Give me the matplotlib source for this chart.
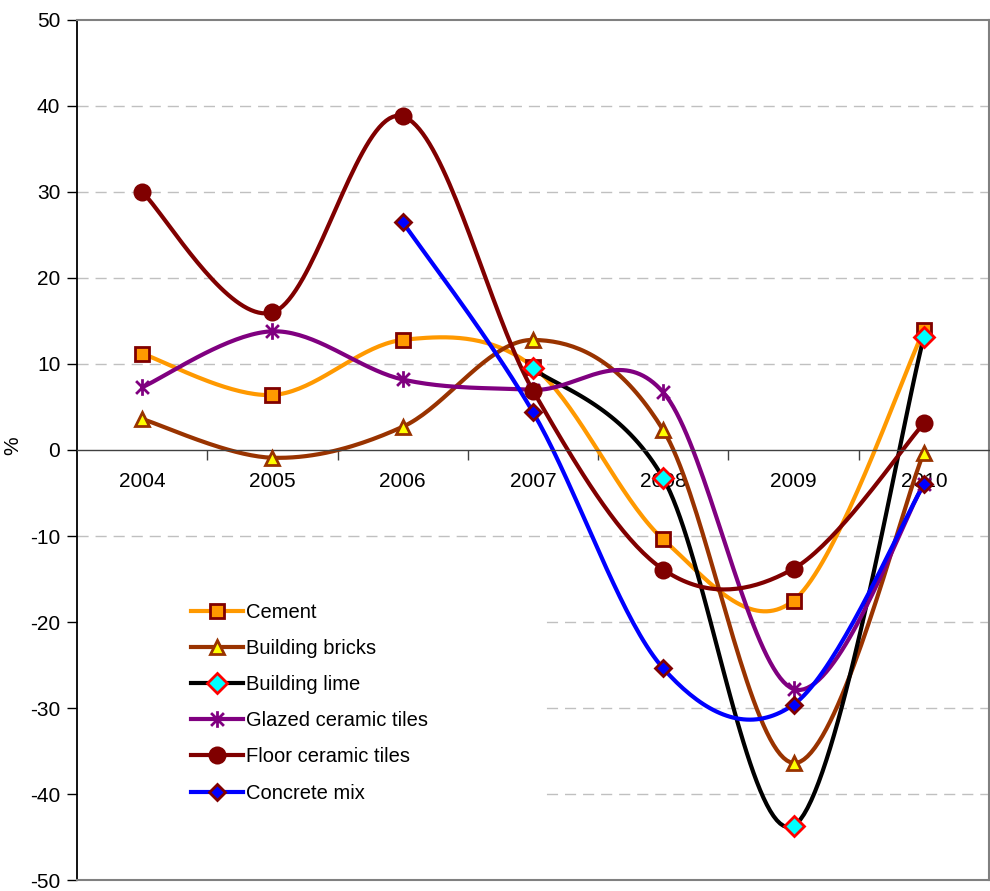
import numpy as np
import matplotlib
matplotlib.use('Agg')
import matplotlib.pyplot as plt
from matplotlib.patches import Rectangle
from matplotlib.lines import Line2D
from matplotlib.path import Path

plt.rcParams['font.family'] = ['Liberation Sans', 'DejaVu Sans']
plt.rcParams['axes.unicode_minus'] = False

years = ['2004', '2005', '2006', '2007', '2008', '2009', '2010']

# None = no value for that year
cement = [11.2, 6.4, 12.8, 9.7, -10.4, -17.5, 13.9]
bricks = [3.6, -0.9, 2.7, 12.8, 2.3, -36.4, -0.3]
lime = [None, None, None, 9.5, -3.3, -43.7, 13.1]
glazed = [7.3, 13.8, 8.2, 7.0, 6.7, -27.8, -4.0]
floor = [30.0, 16.0, 38.8, 6.9, -13.9, -13.8, 3.1]
concrete = [None, None, 26.5, 4.4, -25.4, -29.6, -4.0]

# excel style asterisk: x plus a vertical bar
star = Path([(-1, -1), (1, 1), (-1, 1), (1, -1), (0, -1.3), (0, 1.3)],
            [Path.MOVETO, Path.LINETO, Path.MOVETO, Path.LINETO, Path.MOVETO, Path.LINETO])

series = [
    ('Cement', cement, '#FF9900', 's', '#FF9900', '#800000', 9.5),
    ('Building bricks', bricks, '#993300', '^', '#FFFF00', '#993300', 10.5),
    ('Building lime', lime, '#000000', 'D', '#00FFFF', '#FF0000', 10),
    ('Glazed ceramic tiles', glazed, '#800080', star, '#800080', '#800080', 12),
    ('Floor ceramic tiles', floor, '#800000', 'o', '#800000', '#800000', 11),
    ('Concrete mix', concrete, '#0000FF', 'D', '#0000FF', '#800000', 8),
]


def smooth(x, y, n=40):
    # excel-like smoothed line: catmull-rom bezier
    pts = np.column_stack([x, y])
    out = []
    for i in range(len(pts) - 1):
        p0 = pts[max(i - 1, 0)]
        p1 = pts[i]
        p2 = pts[i + 1]
        p3 = pts[min(i + 2, len(pts) - 1)]
        c1 = p1 + (p2 - p0) / 6
        c2 = p2 - (p3 - p1) / 6
        t = np.linspace(0, 1, n)[:, None]
        seg = (1 - t)**3 * p1 + 3 * (1 - t)**2 * t * c1 + 3 * (1 - t) * t**2 * c2 + t**3 * p2
        out.append(seg if i == 0 else seg[1:])
    out = np.vstack(out)
    return out[:, 0], out[:, 1]


fig = plt.figure(figsize=(9.9, 8.91), dpi=100)
ax = fig.add_axes([77 / 990, 11 / 891, 912 / 990, 860 / 891])

ax.set_xlim(-0.5, 6.5)
ax.set_ylim(-50, 50)

for v in [-40, -30, -20, -10, 10, 20, 30, 40]:
    ax.axhline(v, color='#C0C0C0', lw=1, dashes=(8, 5), zorder=0.5)

# white legend area
ax.add_patch(Rectangle((-0.49, -44.5), 3.55, 28.5, facecolor='white', edgecolor='none', zorder=1))

handles = []
for name, vals, col, mk, mfc, mec, ms in series:
    xs = np.array([i for i, v in enumerate(vals) if v is not None], dtype=float)
    ys = np.array([v for v in vals if v is not None], dtype=float)
    sx, sy = smooth(xs, ys)
    ax.plot(sx, sy, color=col, lw=3, zorder=2, solid_capstyle='round')
    ax.plot(xs, ys, ls='none', marker=mk, ms=ms, mfc=mfc, mec=mec, mew=2, zorder=3)
    handles.append(Line2D([], [], color=col, lw=3, marker=mk, ms=ms, mfc=mfc, mec=mec, mew=2))

ax.legend(handles, [s[0] for s in series], loc='upper left', bbox_to_anchor=(191 / 990, 1 - 603 / 891),
          bbox_transform=fig.transFigure, frameon=False, fontsize=14.5, handlelength=2.6,
          handletextpad=0.15, labelspacing=0.85, borderpad=0, borderaxespad=0)

ax.set_xticks(range(len(years)))
ax.set_xticklabels(years)
ax.set_xticks(np.arange(0.5, 7, 1), minor=True)
ax.tick_params(axis='x', which='major', length=0, pad=16, labelsize=15)
ax.tick_params(axis='x', which='minor', length=7, width=1, direction='out', color='#404040')
ax.set_yticks(range(-50, 51, 10))
ax.tick_params(axis='y', length=7, width=1, direction='out', labelsize=15, pad=5)

ax.spines['bottom'].set_position(('data', 0))
ax.spines['bottom'].set_color('#404040')
ax.spines['bottom'].set_linewidth(1)
ax.spines['left'].set_color('black')
ax.spines['left'].set_linewidth(1.3)
for s in ['top', 'right']:
    ax.spines[s].set_color('#808080')
    ax.spines[s].set_linewidth(1.5)
ax.plot([-0.5, 6.5], [-50, -50], color='#808080', lw=1.5, clip_on=False, zorder=4)

ax.set_ylabel('%', fontsize=15)
ax.yaxis.set_label_coords(-0.06, 0.505)

fig.savefig('out.png', dpi=100)
